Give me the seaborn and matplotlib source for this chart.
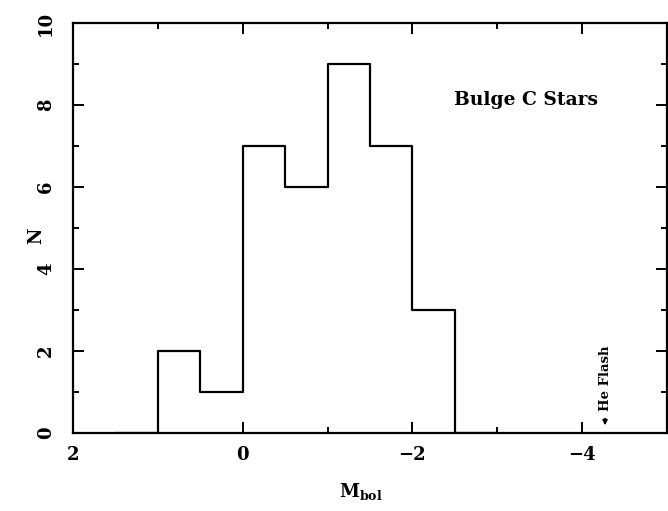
import numpy as np
import pandas as pd
import matplotlib
matplotlib.use("Agg")
import matplotlib.pyplot as plt
import seaborn as sns
from matplotlib.ticker import MultipleLocator

# Data (zero-count bins at each end close the outline)
bin_edges = [-3.0, -2.5, -2.0, -1.5, -1.0, -0.5, 0.0, 0.5, 1.0, 1.5]
counts = [0, 3, 7, 9, 6, 7, 1, 2, 0]
x_ticks = [2, 0, -2, -4]
y_ticks = [0, 2, 4, 6, 8, 10]

centers = [(a + b) / 2 for a, b in zip(bin_edges[:-1], bin_edges[1:])]
df = pd.DataFrame({"Mbol": centers, "N": counts})

sns.set_theme(style="ticks")
plt.rcParams['font.family'] = ['DejaVu Serif']
plt.rcParams['font.weight'] = 'bold'
plt.rcParams['mathtext.fontset'] = 'dejavuserif'
for k in ['text.color', 'axes.labelcolor', 'xtick.color', 'ytick.color', 'axes.edgecolor']:
    plt.rcParams[k] = 'black'

fig = plt.figure(figsize=(6.68, 5.11), dpi=100)
W, H = 668, 511
left, right, top, bottom = 73, 667, 23, 433
ax = fig.add_axes([left / W, 1 - bottom / H, (right - left) / W, (bottom - top) / H])

sns.histplot(data=df, x="Mbol", weights="N", bins=bin_edges, element="step",
             fill=False, color="black", linewidth=1.6, ax=ax)

ax.set_xlim(2, -5)
ax.set_ylim(0, 10)
ax.set_xticks(x_ticks)
ax.set_yticks(y_ticks)
ax.xaxis.set_minor_locator(MultipleLocator(1))
ax.yaxis.set_minor_locator(MultipleLocator(1))
ax.set_xticklabels([str(t).replace('-', '\u2212') for t in x_ticks], fontsize=13, fontweight='bold')
ax.set_yticklabels([str(t) for t in y_ticks], fontsize=13, fontweight='bold', rotation=90, va='center')
ax.tick_params(which='both', direction='in', top=True, right=True, width=1.4, colors='black')
ax.tick_params(which='major', length=8)
ax.tick_params(axis='x', which='major', pad=9)
ax.tick_params(axis='y', which='major', pad=13)
ax.tick_params(which='minor', length=4)
for s in ax.spines.values():
    s.set_linewidth(1.6)
    s.set_visible(True)
    s.set_color('black')

ax.set_xlabel(r"$\mathbf{M_{bol}}$", fontsize=13)
ax.xaxis.set_label_coords(0.485, -0.118)
ax.set_ylabel("N", fontsize=13, fontweight='bold')
ax.yaxis.set_label_coords(-0.046, 0.48)

ax.text(-3.34, 8.11, "Bulge C Stars", fontsize=13.5, fontweight='bold', ha='center', va='center')
ax.text(-4.27, 1.34, "He Flash", fontsize=9.5, fontweight='bold', rotation=90, ha='center', va='center')
ax.annotate("", xy=(-4.27, 0.12), xytext=(-4.27, 0.42),
            arrowprops=dict(arrowstyle='-|>', color='black', lw=1.2, mutation_scale=7))

fig.savefig("out.png", dpi=100)
